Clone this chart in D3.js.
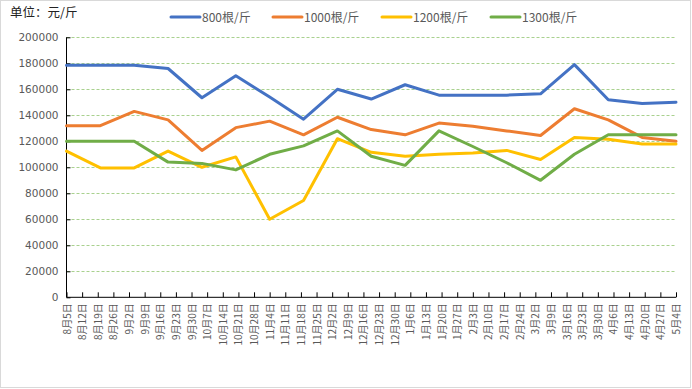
<!DOCTYPE html>
<html><head><meta charset="utf-8">
<script src="https://cdn.jsdelivr.net/npm/d3@7"></script>
<style>
body{margin:0;background:#fff;}
svg{display:block;font-family:"Noto Sans CJK SC","DejaVu Sans",sans-serif;}
</style></head><body>
<svg id="c" width="692" height="389"></svg>
<script>
const tickLabels = ["8月5日","8月12日","8月19日","8月26日","9月2日","9月9日","9月16日","9月23日","9月30日","10月7日","10月14日","10月21日","10月28日","11月4日","11月11日","11月18日","11月25日","12月2日","12月9日","12月16日","12月23日","12月30日","1月6日","1月13日","1月20日","1月27日","2月3日","2月10日","2月17日","2月24日","3月2日","3月9日","3月16日","3月23日","3月30日","4月6日","4月13日","4月20日","4月27日","5月4日"];
const seriesNames = ["800根/斤","1000根/斤","1200根/斤","1300根/斤"];
const v800  = [178500,178500,178500,176000,153500,170500,154000,137000,160000,152500,163500,155500,155500,155500,156500,179000,152000,149000,150000];
const v1000 = [132000,132000,143000,136500,113000,130500,135500,125000,138500,129000,125000,134000,131500,128000,124500,145000,136500,123000,120000];
const v1200 = [112500,99500,99500,112500,100000,108000,60000,74500,122000,111500,108500,110000,111000,113000,106000,123000,121500,118000,118000];
const v1300 = [120000,120000,120000,104000,103000,98000,110000,116500,128000,108500,101500,128000,116000,103500,90000,110000,125000,125000,125000];
const yTicks = [0,20000,40000,60000,80000,100000,120000,140000,160000,180000,200000];
const colors = ["#4472C4","#ED7D31","#FFC000","#70AD47"];
const series = [v800,v1000,v1200,v1300];

const svg = d3.select("#c");
svg.append("rect").attr("x",0.5).attr("y",0.5).attr("width",690).attr("height",387)
  .attr("fill","#fff").attr("stroke","#d9d9d9");

const L=66.5, R=676, T=37.3, B=297.3;
const y = d3.scaleLinear().domain([0,200000]).range([B,T]);
const xTick = d3.scalePoint().domain(tickLabels).range([L,R]);
const xData = d3.scalePoint().domain(d3.range(v800.length)).range([L,R]);

// gridlines
svg.append("g").selectAll("line").data(yTicks.filter(d=>d>0)).join("line")
  .attr("x1",L).attr("x2",R).attr("y1",d=>Math.round(y(d))+0.5).attr("y2",d=>Math.round(y(d))+0.5)
  .attr("stroke","#A9D18E").attr("stroke-dasharray","3,2").attr("stroke-width",1);

// y axis
const ya = svg.append("g").attr("transform",`translate(${L},0)`)
  .call(d3.axisRight(y).tickValues(yTicks).tickSize(4).tickFormat(d=>d));
ya.select(".domain").attr("stroke","#000").attr("d",`M0,${T}V${B}`);
ya.selectAll(".tick line").attr("stroke","#000");
ya.selectAll(".tick text").attr("x",-8).attr("text-anchor","end")
  .attr("fill","#595959").style("font-size","11px").style("font-family","'DejaVu Sans',sans-serif").style("font-size","10.5px");

// x axis
const xa = svg.append("g").attr("transform",`translate(0,${B})`)
  .call(d3.axisTop(xTick).tickSize(5).tickFormat(""));
xa.select(".domain").attr("stroke","#000").attr("d",`M${L},0H${R}`);
xa.selectAll(".tick line").attr("stroke","#000");
svg.append("g").selectAll("text").data(tickLabels).join("text")
  .attr("transform",d=>`translate(${xTick(d)+4},${B+6}) rotate(-90)`)
  .attr("text-anchor","end").attr("fill","#595959").style("font-size","10px").text(d=>d);

// lines
const line = d3.line().x((d,i)=>xData(i)).y(d=>y(d));
svg.append("g").selectAll("path").data(series).join("path")
  .attr("d",line).attr("fill","none").attr("stroke",(d,i)=>colors[i])
  .attr("stroke-width",3).attr("stroke-linejoin","round").attr("stroke-linecap","round");

// legend
const legX = [171,273,382,491];
const lg = svg.append("g").selectAll("g").data(seriesNames).join("g")
  .attr("transform",(d,i)=>`translate(${legX[i]},17)`);
lg.append("line").attr("x1",0).attr("x2",29).attr("stroke",(d,i)=>colors[i]).attr("stroke-width",3).attr("stroke-linecap","round");
lg.append("text").attr("x",31).attr("y",4.5).attr("fill","#595959").style("font-size","12px").text(d=>d);

svg.append("text").attr("x",10).attr("y",17).attr("fill","#222").style("font-size","12.5px").text("单位：元/斤");
</script></body></html>
